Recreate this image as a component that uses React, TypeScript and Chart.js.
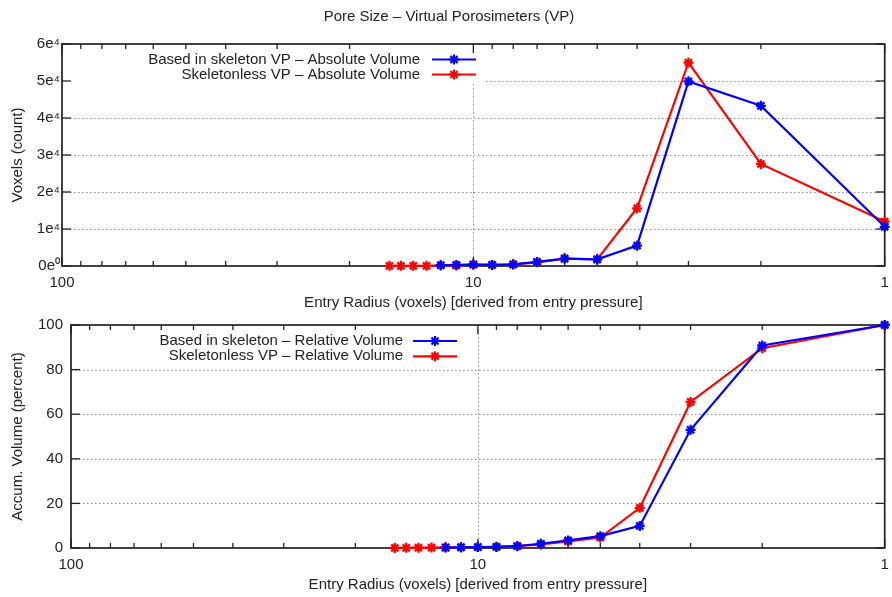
import React, { useEffect, useRef } from 'react';
import { Chart, registerables } from 'chart.js';

Chart.register(...registerables);
Chart.defaults.font.family = "'Liberation Sans', Arial, sans-serif";
Chart.defaults.font.size = 15;
Chart.defaults.color = '#222';

// ---------- data ----------
const TITLE = 'Pore Size – Virtual Porosimeters (VP)';
const X_TITLE = 'Entry Radius (voxels) [derived from entry pressure]';
const TOP_Y_TITLE = 'Voxels (count)';
const BOTTOM_Y_TITLE = 'Accum. Volume (percent)';

const radii = [16, 15, 14, 13, 12, 11, 10, 9, 8, 7, 6, 5, 4, 3, 2, 1];

const skeletonAbs = [null, null, null, null, 200, 300, 400, 300, 450, 1100, 2000, 1800, 5500, 49900, 43300, 10600];
const skeletonlessAbs = [50, 50, 50, 50, 200, 150, 400, 300, 400, 1000, 2000, 1800, 15600, 55000, 27600, 12000];

const skeletonRel = [null, null, null, null, 0.2, 0.3, 0.4, 0.5, 0.9, 1.9, 3.4, 5.3, 9.9, 53.0, 90.8, 100];
const skeletonlessRel = [0.05, 0.1, 0.15, 0.2, 0.3, 0.35, 0.45, 0.55, 0.8, 1.6, 3.0, 4.7, 18.0, 65.5, 89.6, 100];

const xMajorTicks = [100, 10, 1];
const xMinorTicks = [90, 80, 70, 60, 50, 40, 30, 20, 9, 8, 7, 6, 5, 4, 3, 2];
const xGridTicks = [10];

const topYTicks = [0, 10000, 20000, 30000, 40000, 50000, 60000];
const topYLabels = ['0e⁰', '1e⁴', '2e⁴', '3e⁴', '4e⁴', '5e⁴', '6e⁴'];
const bottomYTicks = [0, 20, 40, 60, 80, 100];
const bottomYLabels = ['0', '20', '40', '60', '80', '100'];

const topLegend = ['Based in skeleton VP – Absolute Volume', 'Skeletonless VP – Absolute Volume'];
const bottomLegend = ['Based in skeleton – Relative Volume', 'Skeletonless VP – Relative Volume'];
const seriesColors = ['#0000ff', '#ff0000'];

// ---------- helpers ----------
const FONT = "15px 'Liberation Sans', Arial, sans-serif";

const toPoints = (xs: number[], ys: (number | null)[]) =>
  xs.map((x, i) => ({ x, y: ys[i] })).filter((p) => p.y !== null) as { x: number; y: number }[];

function line(ctx: CanvasRenderingContext2D, x1: number, y1: number, x2: number, y2: number) {
  ctx.beginPath();
  ctx.moveTo(x1, y1);
  ctx.lineTo(x2, y2);
  ctx.stroke();
}

function star(ctx: CanvasRenderingContext2D, cx: number, cy: number, r: number) {
  line(ctx, cx - r, cy, cx + r, cy);
  line(ctx, cx, cy - r, cx, cy + r);
  const d = r * Math.SQRT1_2;
  line(ctx, cx - d, cy - d, cx + d, cy + d);
  line(ctx, cx - d, cy + d, cx + d, cy - d);
}

const gnuPlugin = {
  id: 'gnu',
  beforeDatasetsDraw(chart: any, _args: any, opts: any) {
    const { ctx, chartArea: a, scales } = chart;
    const x = scales.x;
    const y = scales.y;
    ctx.save();
    // dotted grid
    ctx.strokeStyle = '#8c8c8c';
    ctx.lineWidth = 1;
    ctx.setLineDash([1.5, 2.5]);
    for (const v of opts.yTicks.slice(1, -1)) {
      const py = Math.round(y.getPixelForValue(v)) + 0.5;
      line(ctx, a.left, py, a.right, py);
    }
    for (const v of xGridTicks) {
      const px = Math.round(x.getPixelForValue(v)) + 0.5;
      line(ctx, px, a.top, px, a.bottom);
    }
    ctx.setLineDash([]);
    // opaque key box
    const lg = opts.legend;
    const rows = lg.rows.length;
    ctx.fillStyle = '#ffffff';
    ctx.fillRect(a.left + 1, a.top + 1, lg.sampleEnd + 7 - a.left, lg.firstRow + (rows - 1) * lg.rowGap + 8 - a.top);
    // frame
    ctx.strokeStyle = '#222';
    ctx.lineWidth = 1.7;
    ctx.strokeRect(a.left, a.top, a.right - a.left, a.bottom - a.top);
    // tick marks (inward, mirrored)
    ctx.lineWidth = 1.3;
    const major = 9;
    const minor = 5;
    for (const v of xMajorTicks) {
      const px = x.getPixelForValue(v);
      line(ctx, px, a.bottom, px, a.bottom - major);
      line(ctx, px, a.top, px, a.top + major);
    }
    for (const v of xMinorTicks) {
      const px = x.getPixelForValue(v);
      line(ctx, px, a.bottom, px, a.bottom - minor);
      line(ctx, px, a.top, px, a.top + minor);
    }
    for (const v of opts.yTicks) {
      const py = y.getPixelForValue(v);
      line(ctx, a.left, py, a.left + major, py);
      line(ctx, a.right, py, a.right - major, py);
    }
    ctx.restore();
  },
  afterDatasetsDraw(chart: any, _args: any, opts: any) {
    const { ctx } = chart;
    const lg = opts.legend;
    ctx.save();
    ctx.font = FONT;
    ctx.textAlign = 'right';
    ctx.textBaseline = 'middle';
    lg.rows.forEach((text: string, i: number) => {
      const ry = lg.firstRow + i * lg.rowGap;
      ctx.fillStyle = '#222';
      ctx.fillText(text, lg.textRight, ry);
      ctx.strokeStyle = seriesColors[i];
      ctx.lineWidth = 2.2;
      line(ctx, lg.sampleStart, ry, lg.sampleEnd, ry);
      star(ctx, (lg.sampleStart + lg.sampleEnd) / 2, ry, 5);
    });
    if (opts.title) {
      ctx.textAlign = 'center';
      ctx.fillStyle = '#222';
      ctx.fillText(opts.title.text, opts.title.x, opts.title.y);
    }
    ctx.restore();
  },
};

function makeDataset(label: string, data: { x: number; y: number }[], color: string) {
  return {
    label,
    data,
    borderColor: color,
    backgroundColor: color,
    borderWidth: 2.2,
    pointStyle: 'star',
    pointRadius: 5,
    pointBorderWidth: 2.3,
    pointBorderColor: color,
    pointBackgroundColor: color,
    clip: false,
    tension: 0,
  };
}

function makeConfig(p: any) {
  return {
    type: 'line',
    data: {
      datasets: [
        makeDataset(p.legendRows[0], toPoints(radii, p.series[0]), seriesColors[0]),
        makeDataset(p.legendRows[1], toPoints(radii, p.series[1]), seriesColors[1]),
      ],
    },
    options: {
      responsive: false,
      animation: false,
      events: [],
      layout: { padding: { left: 0, top: p.padTop, right: p.padRight, bottom: 0 } },
      plugins: {
        legend: { display: false },
        tooltip: { enabled: false },
        gnu: {
          yTicks: p.yTicks,
          legend: p.legend,
          title: p.title,
        },
      },
      scales: {
        x: {
          type: 'logarithmic',
          reverse: true,
          min: 1,
          max: 100,
          grid: { display: false, drawTicks: false },
          border: { display: false },
          afterBuildTicks: (s: any) => {
            s.ticks = xMajorTicks.map((v) => ({ value: v }));
          },
          ticks: {
            callback: (v: any) => String(v),
            padding: 8,
            maxRotation: 0,
            minRotation: 0,
            autoSkip: false,
            color: '#222',
          },
          title: {
            display: true,
            text: X_TITLE,
            color: '#222',
            padding: { top: 0, bottom: p.xTitlePad },
          },
          afterFit: (s: any) => {
            s.height = p.xAxisHeight;
            s.paddingLeft = 0;
            s.paddingRight = 0;
          },
        },
        y: {
          type: 'linear',
          min: p.yTicks[0],
          max: p.yTicks[p.yTicks.length - 1],
          grid: { display: false, drawTicks: false },
          border: { display: false },
          afterBuildTicks: (s: any) => {
            s.ticks = p.yTicks.map((v: number) => ({ value: v }));
          },
          ticks: {
            callback: (v: any) => p.yLabels[p.yTicks.indexOf(v)] ?? '',
            padding: p.yTickPad,
            autoSkip: false,
            color: '#222',
          },
          title: {
            display: true,
            text: p.yTitle,
            color: '#222',
            padding: { top: 9, bottom: 0 },
          },
          afterFit: (s: any) => {
            s.width = p.yAxisWidth;
            s.paddingTop = 0;
            s.paddingBottom = 0;
          },
        },
      },
    },
    plugins: [gnuPlugin],
  };
}

export default function App() {
  const topRef = useRef<HTMLCanvasElement>(null);
  const bottomRef = useRef<HTMLCanvasElement>(null);

  useEffect(() => {
    const top = new Chart(
      topRef.current as HTMLCanvasElement,
      makeConfig({
        series: [skeletonAbs, skeletonlessAbs],
        legendRows: topLegend,
        yTicks: topYTicks,
        yLabels: topYLabels,
        yTitle: TOP_Y_TITLE,
        padTop: 44,
        padRight: 4,
        xAxisHeight: 48,
        yAxisWidth: 62,
        yTickPad: 2,
        xTitlePad: 2,
        legend: { rows: topLegend, textRight: 420, sampleStart: 432, sampleEnd: 476, firstRow: 59.5, rowGap: 15 },
        title: { text: TITLE, x: 449, y: 17 },
      }) as any
    );
    const bottom = new Chart(
      bottomRef.current as HTMLCanvasElement,
      makeConfig({
        series: [skeletonRel, skeletonlessRel],
        legendRows: bottomLegend,
        yTicks: bottomYTicks,
        yLabels: bottomYLabels,
        yTitle: BOTTOM_Y_TITLE,
        padTop: 11,
        padRight: 5,
        xAxisHeight: 49,
        yAxisWidth: 71,
        yTickPad: 8,
        xTitlePad: 3,
        legend: { rows: bottomLegend, textRight: 403, sampleStart: 413, sampleEnd: 457, firstRow: 27, rowGap: 15.3 },
        title: null,
      }) as any
    );
    return () => {
      top.destroy();
      bottom.destroy();
    };
  }, []);

  return (
    <div style={{ position: 'absolute', left: 0, top: 0, width: 892, height: 597, background: '#fff' }}>
      <canvas ref={topRef} width={892} height={314} style={{ display: 'block', width: 892, height: 314 }} />
      <canvas ref={bottomRef} width={892} height={283} style={{ display: 'block', width: 892, height: 283 }} />
    </div>
  );
}
